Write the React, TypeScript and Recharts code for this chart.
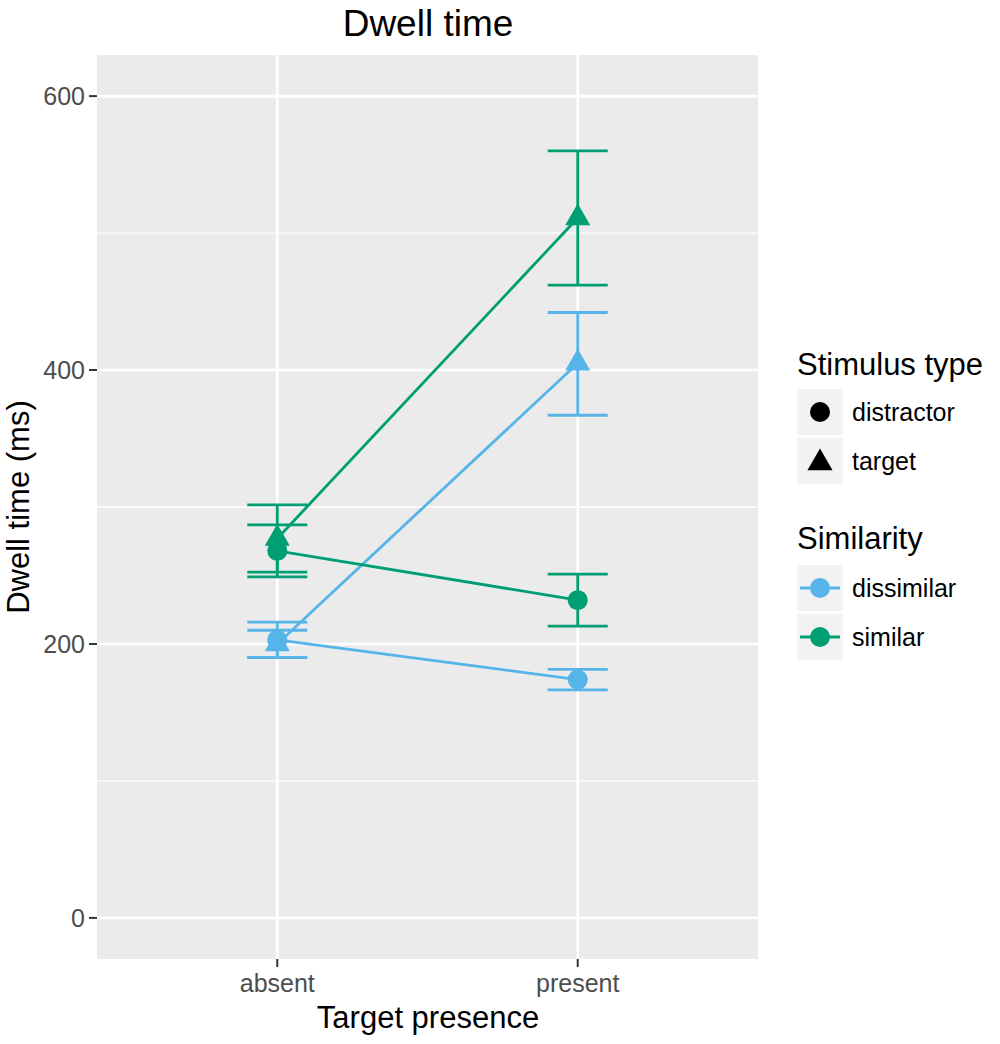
import React from 'react';
import { ComposedChart, Line, ErrorBar, XAxis, YAxis, CartesianGrid } from 'recharts';

const categories = ['absent', 'present'];

// means and interval bounds per group
const dissimilarDistractorMean = [203, 174];
const dissimilarDistractorLow = [190, 166.5];
const dissimilarDistractorHigh = [216, 181.5];

const dissimilarTargetMean = [200, 405];
const dissimilarTargetLow = [190, 367];
const dissimilarTargetHigh = [210, 442];

const similarDistractorMean = [268, 232];
const similarDistractorLow = [249, 213];
const similarDistractorHigh = [287, 251];

const similarTargetMean = [277, 511];
const similarTargetLow = [252.5, 462];
const similarTargetHigh = [301.5, 560];

const yTicks = [0, 200, 400, 600];
const yMinor = [100, 300, 500];

const BLUE = '#56B4E9';
const GREEN = '#009E73';
const FONT = '"Liberation Sans", Arial, sans-serif';

const series = [
  { key: 'dd', mean: dissimilarDistractorMean, low: dissimilarDistractorLow, high: dissimilarDistractorHigh, color: BLUE, shape: 'circle' },
  { key: 'dt', mean: dissimilarTargetMean, low: dissimilarTargetLow, high: dissimilarTargetHigh, color: BLUE, shape: 'triangle' },
  { key: 'sd', mean: similarDistractorMean, low: similarDistractorLow, high: similarDistractorHigh, color: GREEN, shape: 'circle' },
  { key: 'st', mean: similarTargetMean, low: similarTargetLow, high: similarTargetHigh, color: GREEN, shape: 'triangle' },
];

const chartData = categories.map((name, i) => {
  const row: Record<string, any> = { x: i + 1, name };
  series.forEach(s => {
    row[s.key] = s.mean[i];
    row[s.key + 'Err'] = [s.mean[i] - s.low[i], s.high[i] - s.mean[i]];
  });
  return row;
});

const Marker = ({ cx, cy, color, shape }: any) => {
  if (cx == null || cy == null) return null;
  if (shape === 'triangle') {
    const r = 14.5;
    const pts = `${cx},${cy - r} ${cx - r * 0.866},${cy + r / 2} ${cx + r * 0.866},${cy + r / 2}`;
    return <polygon points={pts} fill={color} />;
  }
  return <circle cx={cx} cy={cy} r={10} fill={color} />;
};

const makeDot = (color: string, shape: string) => (props: any) => (
  <Marker key={`dot-${props.index}`} cx={props.cx} cy={props.cy} color={color} shape={shape} />
);

const Overlay = () => (
  <svg width={1000} height={1044} style={{ position: 'absolute', left: 0, top: 0, pointerEvents: 'none' }}>
    <text x={428} y={36} textAnchor="middle" fontSize={37} fontFamily={FONT} fill="#000">Dwell time</text>
    <text x={428} y={1028} textAnchor="middle" fontSize={31} fontFamily={FONT} fill="#000">Target presence</text>
    <text x={29} y={507} textAnchor="middle" fontSize={31} fontFamily={FONT} fill="#000" transform="rotate(-90 29 507)">
      Dwell time (ms)
    </text>

    {/* legend: Stimulus type */}
    <text x={797} y={375} fontSize={31} fontFamily={FONT} fill="#000">Stimulus type</text>
    <rect x={797} y={389} width={46} height={46} fill="#F2F2F2" />
    <Marker cx={820} cy={412} color="#000" shape="circle" />
    <text x={852} y={412} dy="0.35em" fontSize={25} fontFamily={FONT} fill="#000">distractor</text>
    <rect x={797} y={438} width={46} height={46} fill="#F2F2F2" />
    <Marker cx={820} cy={463} color="#000" shape="triangle" />
    <text x={852} y={461} dy="0.35em" fontSize={25} fontFamily={FONT} fill="#000">target</text>

    {/* legend: Similarity */}
    <text x={797} y={549} fontSize={31} fontFamily={FONT} fill="#000">Similarity</text>
    <rect x={797} y={565} width={46} height={46} fill="#F2F2F2" />
    <line x1={800} x2={840} y1={588} y2={588} stroke={BLUE} strokeWidth={3} />
    <Marker cx={820} cy={588} color={BLUE} shape="circle" />
    <text x={852} y={588} dy="0.35em" fontSize={25} fontFamily={FONT} fill="#000">dissimilar</text>
    <rect x={797} y={614} width={46} height={46} fill="#F2F2F2" />
    <line x1={800} x2={840} y1={637} y2={637} stroke={GREEN} strokeWidth={3} />
    <Marker cx={820} cy={637} color={GREEN} shape="circle" />
    <text x={852} y={637} dy="0.35em" fontSize={25} fontFamily={FONT} fill="#000">similar</text>
  </svg>
);

const App = () => {
  const tickStyle = { fill: '#4D4D4D', fontSize: 25, fontFamily: FONT };
  return (
    <div style={{ position: 'absolute', left: 0, top: 0, width: 1000, height: 1044, background: '#fff' }}>
      <ComposedChart
        width={1000}
        height={1044}
        data={chartData}
        margin={{ top: 55, right: 242, bottom: 45, left: 37 }}
      >
        <CartesianGrid
          fill="#EBEBEB"
          fillOpacity={1}
          stroke="#FFFFFF"
          strokeWidth={1.3}
          vertical={false}
          horizontalValues={yMinor}
        />
        <CartesianGrid
          stroke="#FFFFFF"
          strokeWidth={2.6}
          horizontalValues={yTicks}
          verticalValues={[1, 2]}
        />
        <XAxis
          type="number"
          dataKey="x"
          domain={[0.4, 2.6]}
          ticks={[1, 2]}
          allowDataOverflow
          tickFormatter={(v: number) => categories[v - 1]}
          axisLine={false}
          tickLine={{ stroke: '#333333', strokeWidth: 2 }}
          tickSize={8}
          tickMargin={7}
          height={40}
          tick={tickStyle}
        />
        <YAxis
          type="number"
          domain={[-30, 630]}
          ticks={yTicks}
          allowDataOverflow
          axisLine={false}
          tickLine={{ stroke: '#333333', strokeWidth: 2 }}
          tickSize={8}
          tickMargin={4}
          width={60}
          tick={tickStyle}
        />
        {series.map(s => (
          <Line
            key={s.key}
            dataKey={s.key}
            type="linear"
            stroke={s.color}
            strokeWidth={2.8}
            dot={makeDot(s.color, s.shape)}
            activeDot={false}
            isAnimationActive={false}
          >
            <ErrorBar
              dataKey={s.key + 'Err'}
              direction="y"
              width={30}
              stroke={s.color}
              strokeWidth={2.8}
              isAnimationActive={false}
            />
          </Line>
        ))}
      </ComposedChart>
      <Overlay />
    </div>
  );
};

export default App;
